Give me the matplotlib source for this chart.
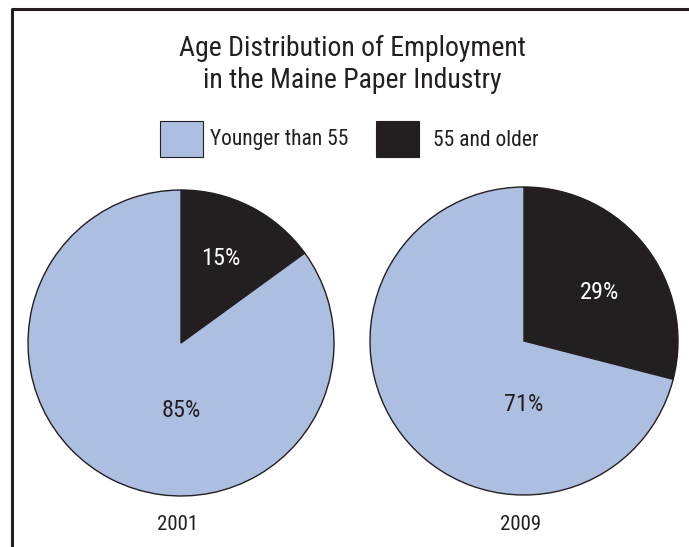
import numpy as np
import matplotlib
matplotlib.use("Agg")
from matplotlib import pyplot as plt
from matplotlib.patches import Rectangle

plt.rcParams["font.family"] = ["Roboto Condensed", "DejaVu Sans"]

# data
groups = ["Younger than 55", "55 and older"]
years = ["2001", "2009"]
shares_2001 = [85, 15]
shares_2009 = [71, 29]
colors = ["#adbfe1", "#231f20"]
ink = "#231f20"

W, H = 689, 547
fig = plt.figure(figsize=(W / 100, H / 100), dpi=100)
ax = fig.add_axes([0, 0, 1, 1])


def py(y):
    # pixel row (top-down) -> data y
    return H - y


# frame, open at right and bottom like the cropped original
ax.plot([12, 12, W + 5], [-5, py(9), py(9)], color=ink, lw=2.2, clip_on=False)

ax.text(352, py(48), "Age Distribution of Employment", ha="center", va="center",
        fontsize=20, color=ink)
ax.text(352, py(80), "in the Maine Paper Industry", ha="center", va="center",
        fontsize=20, color=ink)

# legend
ax.add_patch(Rectangle((160, py(157)), 43, 36, facecolor=colors[0],
                       edgecolor=ink, lw=0.8))
ax.text(210, py(140), groups[0], ha="left", va="center", fontsize=15.5, color=ink)
ax.add_patch(Rectangle((376, py(157)), 43, 36, facecolor=colors[1],
                       edgecolor=ink, lw=0.8))
ax.text(433, py(140), groups[1], ha="left", va="center", fontsize=15.5, color=ink)

# centre, radius, (angle shift, dist) for older label, dist for younger label
pies = [
    (shares_2001, (181, py(343)), 153, (1.5, 0.61), 0.44),
    (shares_2009, (524, py(341)), 154, (-5, 0.585), 0.41),
]

for (vals, center, radius, (shift, r_old), r_young), year in zip(pies, years):
    # black wedge starts at 12 o'clock going clockwise
    ordered = [vals[1], vals[0]]
    wedges, _ = ax.pie(ordered, colors=[colors[1], colors[0]], startangle=90,
                       counterclock=False, center=center, radius=radius,
                       wedgeprops=dict(edgecolor=ink, linewidth=1.0))
    # older share: inside its wedge; younger share: straight below centre
    w = wedges[0]
    ang = np.deg2rad((w.theta1 + w.theta2) / 2 + shift)
    ax.text(center[0] + r_old * radius * np.cos(ang),
            center[1] + r_old * radius * np.sin(ang),
            f"{vals[1]}%", ha="center", va="center", fontsize=17.5, color="white")
    ax.text(center[0], center[1] - r_young * radius, f"{vals[0]}%",
            ha="center", va="center", fontsize=17.5, color=ink)
    ax.text(center[0] - 3, py(525), year, ha="center", va="center", fontsize=15,
            color=ink)

ax.set_xlim(0, W)
ax.set_ylim(0, H)
ax.set_aspect("equal")
ax.axis("off")

fig.savefig("out.png", dpi=100)
